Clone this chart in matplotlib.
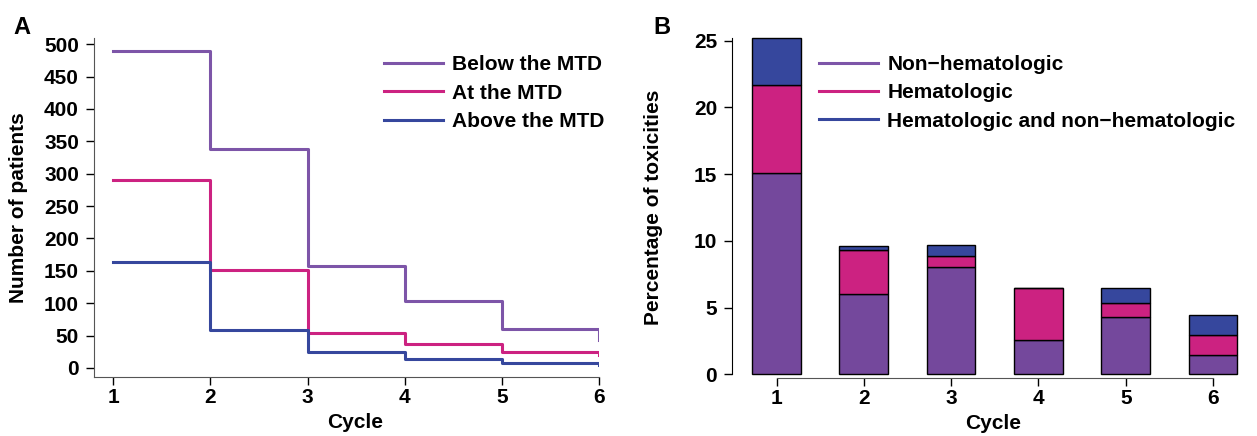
import numpy as np
import matplotlib
matplotlib.use("Agg")
import matplotlib.pyplot as plt
from matplotlib.lines import Line2D

plt.rcParams['font.family'] = ['Liberation Sans', 'DejaVu Sans']
plt.rcParams['font.weight'] = 'bold'

cycles = [1, 2, 3, 4, 5, 6]

# panel A: number of patients still on treatment (step curves)
below_mtd = [490, 338, 157, 104, 60, 43]
at_mtd = [290, 152, 54, 37, 25, 20]
above_mtd = [163, 58, 25, 14, 7, 4]

# panel B: percentage of toxicities per cycle (stacked)
non_hemat = [15.05, 6.0, 8.03, 2.57, 4.3, 1.45]
hemat = [6.65, 3.28, 0.82, 3.87, 1.06, 1.47]
both = [3.5, 0.35, 0.85, 0.0, 1.08, 1.52]

legend_a = ['Below the MTD', 'At the MTD', 'Above the MTD']
legend_b = ['Non\u2212hematologic', 'Hematologic', 'Hematologic and non\u2212hematologic']

purple = '#74489c'
pink = '#cc2281'
blue = '#36479d'
line_purple = '#7d55a8'
axis_grey = '#555555'
fs = 15

fig = plt.figure(figsize=(12.57, 4.36), dpi=100)

# ---------- A ----------
axA = fig.add_axes([0.0750, 0.1346, 0.4018, 0.7789])
axA.step(cycles, below_mtd, where='post', color=line_purple, lw=2.2, label=legend_a[0])
axA.step(cycles, at_mtd, where='post', color=pink, lw=2.2, label=legend_a[1])
axA.step(cycles, above_mtd, where='post', color=blue, lw=2.2, label=legend_a[2])
axA.set_xlim(0.805, 6.0)
axA.set_ylim(-14.4, 510)
axA.set_xticks(cycles)
axA.set_yticks(np.arange(0, 501, 50))
axA.set_ylabel('Number of patients', fontsize=fs, fontweight='bold')
axA.yaxis.set_label_coords(-0.131, 0.5)
axA.set_xlabel('Cycle', fontsize=fs, fontweight='bold')
axA.xaxis.set_label_coords(0.517, -0.106)
for s in ['top', 'right']:
    axA.spines[s].set_visible(False)
for s in ['left', 'bottom']:
    axA.spines[s].set_color(axis_grey)
axA.legend(loc='upper left', bbox_to_anchor=(0.5737, 0.948), frameon=False,
           fontsize=fs, handlelength=2.84, handletextpad=0.43, labelspacing=0.45,
           borderpad=0, borderaxespad=0)
fig.text(0.0103, 0.938, 'A', fontsize=17, fontweight='bold', va='center')

# ---------- B ----------
axB = fig.add_axes([0.5826, 0.1337, 0.4039, 0.7837])
bw = 0.558
bottom2 = np.array(non_hemat) + np.array(hemat)
axB.bar(cycles, non_hemat, width=bw, color=purple, edgecolor='black', lw=1.0)
axB.bar(cycles, hemat, width=bw, bottom=non_hemat, color=pink, edgecolor='black', lw=1.0)
axB.bar(cycles, both, width=bw, bottom=bottom2, color=blue, edgecolor='black', lw=1.0)
axB.set_xlim(0.4937, 6.309)
axB.set_ylim(-0.255, 25.35)
axB.set_xticks(cycles)
axB.set_yticks(np.arange(0, 26, 5))
axB.spines['bottom'].set_bounds(1, 6)
axB.spines['bottom'].set_color(axis_grey)
axB.spines['left'].set_bounds(0, 25.2)
for s in ['top', 'right']:
    axB.spines[s].set_visible(False)
axB.set_ylabel('Percentage of toxicities', fontsize=fs, fontweight='bold')
axB.yaxis.set_label_coords(-0.1365, 0.5)
axB.set_xlabel('Cycle', fontsize=fs, fontweight='bold')
axB.xaxis.set_label_coords(0.5135, -0.106)
handles = [Line2D([], [], color=line_purple, lw=2.2), Line2D([], [], color=pink, lw=2.2),
           Line2D([], [], color=blue, lw=2.2)]
axB.legend(handles, legend_b, loc='upper left', bbox_to_anchor=(0.1708, 0.945), frameon=False,
           fontsize=fs, handlelength=2.84, handletextpad=0.43, labelspacing=0.45,
           borderpad=0, borderaxespad=0)
fig.text(0.5195, 0.938, 'B', fontsize=17, fontweight='bold', va='center')

for ax in (axA, axB):
    ax.tick_params(axis='both', labelsize=fs, length=5.5, width=1)
    ax.tick_params(axis='y', pad=5.5)
    ax.tick_params(axis='x', pad=2.5)
    for lab in ax.get_xticklabels() + ax.get_yticklabels():
        lab.set_fontweight('bold')

fig.savefig('out.png', dpi=100)
